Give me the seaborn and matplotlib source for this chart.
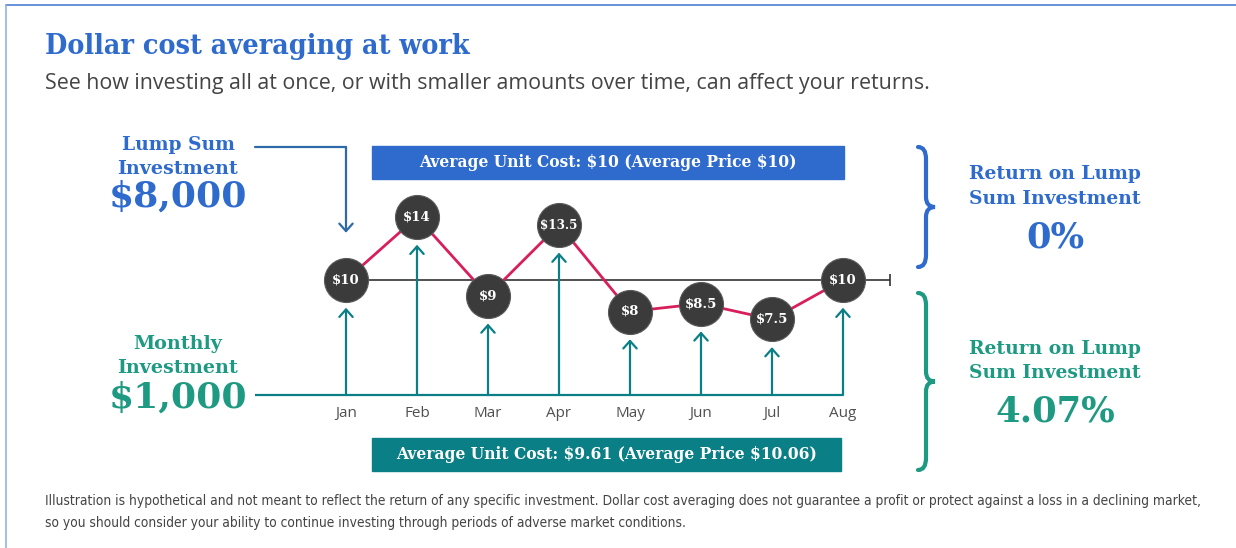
import numpy as np
import pandas as pd
import matplotlib.pyplot as plt
import seaborn as sns
from matplotlib.patches import Rectangle, PathPatch
from matplotlib.path import Path
from matplotlib.lines import Line2D

# chart values
months = ["Jan", "Feb", "Mar", "Apr", "May", "Jun", "Jul", "Aug"]
prices = [10, 14, 9, 13.5, 8, 8.5, 7.5, 10]
price_labels = ["$10", "$14", "$9", "$13.5", "$8", "$8.5", "$7.5", "$10"]
avg_price = 10
lump_sum = "$8,000"
monthly_amt = "$1,000"
lump_return = "0%"
dca_return = "4.07%"
lump_cost_text = "Average Unit Cost: $10 (Average Price $10)"
dca_cost_text = "Average Unit Cost: $9.61 (Average Price $10.06)"

title = "Dollar cost averaging at work"
subtitle = "See how investing all at once, or with smaller amounts over time, can affect your returns."
footnote = ["Illustration is hypothetical and not meant to reflect the return of any specific investment. "
            "Dollar cost averaging does not guarantee a profit or protect against a loss in a declining market,",
            "so you should consider your ability to continue investing through periods of adverse market conditions."]

BLUE = "#2F6BCD"
STEEL = "#2E6AA8"
TEAL = "#0B7F86"
GREEN = "#1F9A82"
PINK = "#D81E5B"
DARK = "#3B3B3B"
GREY = "#444444"

sns.set_theme(style="white")
plt.rcParams["font.family"] = ["DejaVu Sans"]
plt.rcParams["text.parse_math"] = False

W, H = 1236, 548
fig = plt.figure(figsize=(W / 100, H / 100), dpi=100)


def fx(px):
    return px / W


def fy(py):
    return 1 - py / H


# axes placed so month spacing and price scale match the picture
ax_l, ax_r, ax_t, ax_b = 255, 890, 140, 395
ax = fig.add_axes([fx(ax_l), fy(ax_b), fx(ax_r - ax_l), (ax_b - ax_t) / H])
step_px, unit_px = 71, 15.75
x_lo = -(346 - ax_l) / step_px
x_hi = 7 + (ax_r - 843) / step_px
y_lo = avg_price - (ax_b - 280) / unit_px
y_hi = avg_price + (280 - ax_t) / unit_px
ax.set_xlim(x_lo, x_hi)
ax.set_ylim(y_lo, y_hi)
ax.patch.set_alpha(0)
for s in ax.spines.values():
    s.set_visible(False)

df = pd.DataFrame({"i": np.arange(len(months)), "price": prices, "month": months})

# average price reference line
ax.hlines(avg_price, 0, x_hi, color="#333333", lw=1.2, zorder=1)
ax.plot([x_hi], [avg_price], marker="|", ms=8, mew=1.2, color="#333333", clip_on=False)

sns.lineplot(data=df, x="i", y="price", color=PINK, lw=2, ax=ax, zorder=2)
sns.scatterplot(data=df, x="i", y="price", s=1004, color=DARK, edgecolor="#5a5a5a",
                linewidth=0.8, ax=ax, zorder=3)
for i, p, lab in zip(df["i"], prices, price_labels):
    ax.text(i, p, lab, ha="center", va="center", color="white", fontsize=9.5,
            fontweight="bold", family="DejaVu Serif",
            fontstretch="condensed" if len(lab) > 4 else "normal", zorder=4)

# monthly investment baseline and arrows
ax.hlines(y_lo, x_lo, len(months) - 1, color=TEAL, lw=1.6, clip_on=False)
for i, p in zip(df["i"], prices):
    ax.annotate("", xy=(i, p), xytext=(i, y_lo),
                arrowprops=dict(arrowstyle="->,head_length=0.45,head_width=0.4",
                                color=TEAL, lw=1.6, shrinkA=0, shrinkB=20))

# lump sum arrow into January
y_top = avg_price + (280 - 147) / unit_px
ax.plot([x_lo, 0], [y_top, y_top], color=STEEL, lw=1.6, clip_on=False)
ax.annotate("", xy=(0, prices[0]), xytext=(0, y_top),
            arrowprops=dict(arrowstyle="->,head_length=0.45,head_width=0.4",
                            color=STEEL, lw=1.6, shrinkA=0, shrinkB=34),
            annotation_clip=False)

ax.set_xticks(df["i"])
ax.set_xticklabels(months, color="#505050", fontsize=11, family="Open Sans")
ax.set_yticks([])
ax.tick_params(axis="x", length=0, pad=8)
ax.set_xlabel("")
ax.set_ylabel("")

# boxes with average cost
for (x0, y0, x1, y1), col, txt in [((372, 146, 844, 179), BLUE, lump_cost_text),
                                   ((372, 438, 841, 471), TEAL, dca_cost_text)]:
    fig.patches.append(Rectangle((fx(x0), fy(y1)), fx(x1 - x0), (y1 - y0) / H,
                                 transform=fig.transFigure, color=col, zorder=0))
    fig.text(fx((x0 + x1) / 2), fy((y0 + y1) / 2), txt, ha="center", va="center",
             color="white", fontsize=11.2, fontweight="bold", family="DejaVu Serif")

serif = dict(family="DejaVu Serif", fontweight="bold", ha="center", va="center")
fig.text(fx(178), fy(145), "Lump Sum", color=BLUE, fontsize=13.5, **serif)
fig.text(fx(178), fy(169), "Investment", color=BLUE, fontsize=13.8, **serif)
fig.text(fx(178), fy(197), lump_sum, color=BLUE, fontsize=26, **serif)
fig.text(fx(178), fy(344), "Monthly", color=GREEN, fontsize=13.8, **serif)
fig.text(fx(178), fy(368), "Investment", color=GREEN, fontsize=13.8, **serif)
fig.text(fx(178), fy(398), monthly_amt, color=GREEN, fontsize=26, **serif)

fig.text(fx(1055), fy(174), "Return on Lump", color=BLUE, fontsize=13.5, **serif)
fig.text(fx(1055), fy(199), "Sum Investment", color=BLUE, fontsize=13.5, **serif)
fig.text(fx(1055), fy(238), lump_return, color=BLUE, fontsize=25.5, **serif)
fig.text(fx(1055), fy(349), "Return on Lump", color=GREEN, fontsize=13.5, **serif)
fig.text(fx(1055), fy(373), "Sum Investment", color=GREEN, fontsize=13.5, **serif)
fig.text(fx(1055), fy(411), dca_return, color=GREEN, fontsize=25.5, **serif)


def brace(x0, y0, y1, color):
    ym = (y0 + y1) / 2
    xs, xt = x0 + 8, x0 + 17
    pts = [(x0, y0), (xs, y0), (xs, y0 + 12), (xs, ym - 10), (xs, ym), (xt, ym),
           (xs, ym), (xs, ym + 10), (xs, y1 - 12), (xs, y1), (x0, y1)]
    codes = [Path.MOVETO, Path.CURVE3, Path.CURVE3, Path.LINETO, Path.CURVE3, Path.CURVE3,
             Path.CURVE3, Path.CURVE3, Path.LINETO, Path.CURVE3, Path.CURVE3]
    verts = [(fx(a), fy(b)) for a, b in pts]
    fig.patches.append(PathPatch(Path(verts, codes), transform=fig.transFigure,
                                 fill=False, edgecolor=color, lw=3, capstyle="round"))


brace(918, 147, 267, BLUE)
brace(918, 293, 470, GREEN)

# header and footnote
fig.text(fx(45), fy(47), title, color=BLUE, fontsize=20.5, fontweight="bold",
         family="DejaVu Serif", fontstretch="condensed", ha="left", va="center")
fig.text(fx(45), fy(84), subtitle, color=GREY, fontsize=15.4, family="Open Sans",
         ha="left", va="center")
fig.text(fx(45), fy(501), footnote[0], color=GREY, fontsize=9.9,
         family="DejaVu Sans", fontstretch="condensed", ha="left", va="center")
fig.text(fx(45), fy(523), footnote[1], color=GREY, fontsize=9.9,
         family="DejaVu Sans", fontstretch="condensed", ha="left", va="center")

# frame
fig.lines.append(Line2D([fx(6), 1], [fy(5), fy(5)], transform=fig.transFigure, color="#4C7FD3", lw=1.2))
fig.lines.append(Line2D([fx(6), fx(6)], [fy(5), 0], transform=fig.transFigure, color="#8DB3EA", lw=1.2))

fig.savefig("out.png", dpi=100, facecolor="white")
